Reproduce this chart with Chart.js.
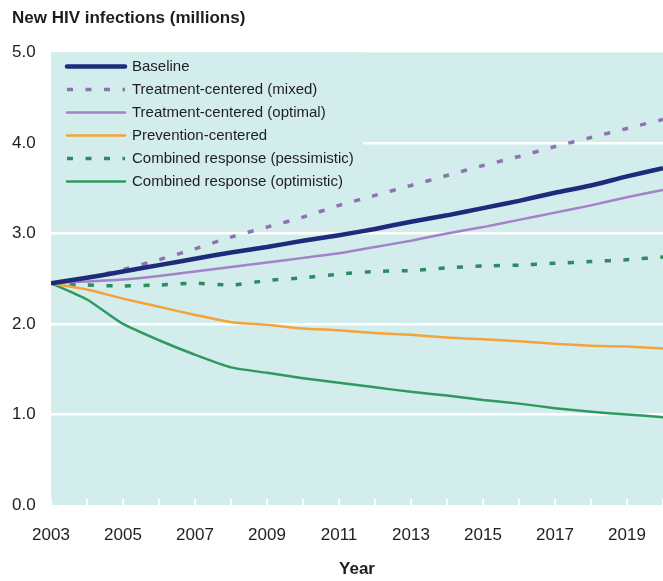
<!DOCTYPE html>
<html>
<head>
<meta charset="utf-8">
<script src="https://cdn.jsdelivr.net/npm/chart.js@4"></script>
<style>
  html, body { margin: 0; padding: 0; background: #fff; }
  canvas { display: block; }
</style>
</head>
<body>
<canvas id="chart" width="663" height="581"></canvas>
<script>
// Data
const years = [2003, 2004, 2005, 2006, 2007, 2008, 2009, 2010, 2011, 2012, 2013, 2014, 2015, 2016, 2017, 2018, 2019, 2020];
const yearTicks = [2003, 2005, 2007, 2009, 2011, 2013, 2015, 2017, 2019];
const valueTicks = [0, 1, 2, 3, 4, 5];

const baseline      = [2.45, 2.51, 2.58, 2.65, 2.72, 2.79, 2.85, 2.92, 2.98, 3.05, 3.13, 3.20, 3.28, 3.36, 3.45, 3.53, 3.63, 3.72];
const treatMixed    = [2.45, 2.51, 2.60, 2.71, 2.83, 2.96, 3.07, 3.18, 3.31, 3.42, 3.53, 3.64, 3.75, 3.85, 3.96, 4.06, 4.16, 4.26];
const treatOptimal  = [2.45, 2.47, 2.49, 2.53, 2.58, 2.63, 2.68, 2.73, 2.78, 2.85, 2.92, 3.00, 3.07, 3.15, 3.23, 3.31, 3.40, 3.48];
const prevention    = [2.45, 2.38, 2.28, 2.19, 2.10, 2.02, 1.99, 1.95, 1.93, 1.90, 1.88, 1.85, 1.83, 1.81, 1.78, 1.76, 1.75, 1.73];
const combinedPess  = [2.45, 2.43, 2.42, 2.43, 2.45, 2.43, 2.48, 2.51, 2.55, 2.58, 2.59, 2.62, 2.64, 2.65, 2.67, 2.69, 2.71, 2.74];
const combinedOpt   = [2.45, 2.27, 2.00, 1.82, 1.66, 1.52, 1.46, 1.40, 1.35, 1.30, 1.25, 1.21, 1.16, 1.12, 1.07, 1.03, 1.00, 0.97];

const plotBg = "#d3ecec";
const textColor = "#1e1e1e";
const font = "'Liberation Sans', Arial, sans-serif";

function pts(values) {
  return years.map((y, i) => ({ x: y, y: values[i] }));
}

function series(label, values, color, width, dash) {
  return {
    label: label,
    data: pts(values),
    borderColor: color,
    backgroundColor: color,
    borderWidth: width,
    borderDash: dash || [],
    borderCapStyle: "butt",
    pointRadius: 0,
    tension: 0.2,
    fill: false
  };
}

// plot background
const areaBg = {
  id: "areaBg",
  beforeDraw(chart) {
    const a = chart.chartArea, c = chart.ctx;
    c.save();
    c.fillStyle = plotBg;
    c.fillRect(a.left, a.top, chart.width - a.left, a.bottom - a.top);
    c.restore();
  }
};

// small white year ticks along the bottom + legend box inside the plot
const insideBits = {
  id: "insideBits",
  beforeDatasetsDraw(chart) {
    const c = chart.ctx, a = chart.chartArea, xs = chart.scales.x;
    c.save();
    c.strokeStyle = "#ffffff";
    c.lineWidth = 2;
    years.forEach(y => {
      const px = Math.round(xs.getPixelForValue(y));
      c.beginPath();
      c.moveTo(px, a.bottom);
      c.lineTo(px, a.bottom - 6);
      c.stroke();
    });

    // legend
    c.fillStyle = plotBg;
    c.fillRect(a.left, a.top, 312, 145);
    c.font = "15px " + font;
    c.textBaseline = "middle";
    chart.data.datasets.forEach((ds, i) => {
      const y = a.top + 14 + i * 23;
      c.strokeStyle = ds.borderColor;
      c.lineWidth = ds.borderWidth;
      c.setLineDash(ds.borderDash);
      c.lineCap = ds.borderDash.length ? "butt" : "round";
      c.beginPath();
      c.moveTo(a.left + 16, y);
      c.lineTo(a.left + 74, y);
      c.stroke();
      c.setLineDash([]);
      c.fillStyle = textColor;
      c.fillText(ds.label, a.left + 81, y);
    });
    c.restore();
  }
};

const ctx = document.getElementById("chart").getContext("2d");

const chart = new Chart(ctx, {
  type: "line",
  data: {
    datasets: [
      series("Baseline", baseline, "#1d2b7a", 4.5),
      series("Treatment-centered (mixed)", treatMixed, "#8e74ae", 3.5, [6, 12.5]),
      series("Treatment-centered (optimal)", treatOptimal, "#a482c8", 2.5),
      series("Prevention-centered", prevention, "#f4a33a", 2.5),
      series("Combined response (pessimistic)", combinedPess, "#2b8c60", 3.5, [6, 12.5]),
      series("Combined response (optimistic)", combinedOpt, "#2e9a5f", 2.5)
    ]
  },
  options: {
    responsive: false,
    animation: false,
    devicePixelRatio: 1,
    layout: { padding: { left: 12, right: 0, top: 0, bottom: 0 } },
    plugins: {
      legend: { display: false },
      tooltip: { enabled: false },
      title: {
        display: true,
        text: "New HIV infections (millions)",
        align: "start",
        color: textColor,
        font: { family: font, size: 17, weight: "bold" },
        padding: { top: 8, bottom: 24 }
      }
    },
    scales: {
      x: {
        type: "linear",
        min: 2003,
        max: 2020,
        afterBuildTicks: s => { s.ticks = yearTicks.map(v => ({ value: v })); },
        afterFit: s => { s.height = 76; s.paddingRight = 0; },
        grid: { display: false, drawTicks: false },
        border: { display: false },
        ticks: {
          color: textColor,
          padding: 20,
          maxRotation: 0,
          font: { family: font, size: 17 },
          callback: v => String(v)
        },
        title: {
          display: true,
          text: "Year",
          color: textColor,
          padding: { top: 8, bottom: 1 },
          font: { family: font, size: 17, weight: "bold" }
        }
      },
      y: {
        min: 0,
        max: 5,
        afterBuildTicks: s => { s.ticks = valueTicks.map(v => ({ value: v })); },
        afterFit: s => { s.width = 39; s.paddingRight = 0; },
        border: { display: false },
        grid: {
          drawTicks: false,
          lineWidth: 2.5,
          color: c => (c.tick.value === 0 || c.tick.value === 5) ? "rgba(0,0,0,0)" : "#ffffff"
        },
        ticks: {
          color: textColor,
          crossAlign: "far",
          padding: 8,
          font: { family: font, size: 17 },
          callback: v => v.toFixed(1)
        }
      }
    }
  },
  plugins: [areaBg, insideBits]
});
</script>
</body>
</html>
